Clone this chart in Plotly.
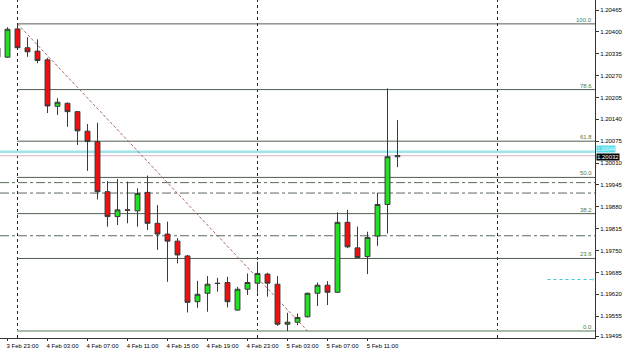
import plotly.graph_objects as go

# ---- data (EURUSD H1 style chart) ----
candle_idx = list(range(-1, 40))
opens = [1.20352, 1.20325, 1.20409, 1.20353, 1.20343, 1.20317, 1.20179, 1.20188, 1.20163, 1.20105,
         1.20074, 1.19925, 1.19851, 1.19871, 1.19868, 1.19923, 1.19831, 1.19799, 1.19778, 1.19734,
         1.19598, 1.19623, 1.19653, 1.19655, 1.19573, 1.19635, 1.19653, 1.19680, 1.19650, 1.19531,
         1.19537, 1.19553, 1.19623, 1.19647, 1.19626, 1.19834, 1.19758, 1.19732, 1.19793, 1.19887,
         1.20029]
highs = [1.20361, 1.20414, 1.20424, 1.20384, 1.20378, 1.20323, 1.20203, 1.20190, 1.20165, 1.20126,
         1.20130, 1.19957, 1.19963, 1.19955, 1.19935, 1.19973, 1.19885, 1.19836, 1.19787, 1.19737,
         1.19660, 1.19674, 1.19669, 1.19672, 1.19642, 1.19682, 1.19717, 1.19684, 1.19674, 1.19565,
         1.19563, 1.19625, 1.19655, 1.19659, 1.19864, 1.19871, 1.19821, 1.19806, 1.19922, 1.20232,
         1.20138]
lows = [1.20322, 1.20323, 1.20350, 1.20326, 1.20307, 1.20159, 1.20153, 1.20118, 1.20064, 1.19987,
        1.19902, 1.19821, 1.19826, 1.19831, 1.19821, 1.19811, 1.19752, 1.19657, 1.19712, 1.19566,
        1.19580, 1.19568, 1.19628, 1.19581, 1.19572, 1.19618, 1.19625, 1.19613, 1.19526, 1.19511,
        1.19528, 1.19551, 1.19585, 1.19588, 1.19624, 1.19757, 1.19727, 1.19680, 1.19764, 1.19801,
        1.19998]
closes = [1.20325, 1.20408, 1.20353, 1.20341, 1.20315, 1.20180, 1.20191, 1.20163, 1.20106, 1.20074,
          1.19925, 1.19851, 1.19871, 1.19870, 1.19920, 1.19831, 1.19799, 1.19778, 1.19737, 1.19596,
          1.19620, 1.19650, 1.19652, 1.19598, 1.19635, 1.19655, 1.19682, 1.19653, 1.19531, 1.19537,
          1.19551, 1.19623, 1.19647, 1.19626, 1.19834, 1.19761, 1.19729, 1.19789, 1.19887, 1.20029,
          1.20032]

x_tick_idx = [0, 4, 8, 12, 16, 20, 24, 28, 32, 36]
x_tick_labels = ["3 Feb 23:00", "4 Feb 03:00", "4 Feb 07:00", "4 Feb 11:00", "4 Feb 15:00",
                 "4 Feb 19:00", "4 Feb 23:00", "5 Feb 03:00", "5 Feb 07:00", "5 Feb 11:00"]

y_tick_vals = [1.20465, 1.20400, 1.20335, 1.20270, 1.20205, 1.20140, 1.20075, 1.20010,
               1.19945, 1.19880, 1.19815, 1.19750, 1.19685, 1.19620, 1.19555, 1.19495]

# Fibonacci retracement anchors
fib_high_idx, fib_high = 1, 1.20424
fib_low_idx, fib_low = 30, 1.19511
fib_ratios = [1.0, 0.786, 0.618, 0.5, 0.382, 0.236, 0.0]
fib_labels = ["100.0", "78.6", "61.8", "50.0", "38.2", "23.6", "0.0"]

dashdot_levels = [1.19952, 1.19921, 1.19794]
cyan_level = 1.20044
bid_price = closes[-1]
arrow_level = 1.19664
arrow_idx = [54, 58.55]
separator_idx = [1, 25, 49]

x_range = [-0.75, 58.75]
y_range = [1.19490, 1.20495]

FONT = "Liberation Sans"

fig = go.Figure()

# horizontal full-width levels
for lv in dashdot_levels:
    fig.add_shape(type="line", xref="x", yref="y", x0=x_range[0], x1=x_range[1], y0=lv, y1=lv,
                  line=dict(color="#5c6b5c", width=1, dash="dashdot"), layer="below")
fig.add_shape(type="line", xref="x", yref="y", x0=x_range[0], x1=x_range[1], y0=cyan_level, y1=cyan_level,
              line=dict(color="#9fe4ea", width=2.5), layer="below")
fig.add_shape(type="line", xref="x", yref="y", x0=x_range[0], x1=x_range[1], y0=bid_price, y1=bid_price,
              line=dict(color="#cbb6cb", width=1), layer="below")

# fib levels
for r, lab in zip(fib_ratios, fib_labels):
    lv = fib_low + r * (fib_high - fib_low)
    if r == 0.0:
        ln = dict(color="#a9bba9", width=2)
    else:
        ln = dict(color="#4f5f4f", width=1)
    fig.add_shape(type="line", xref="x", yref="y", x0=fib_high_idx - 0.05, x1=x_range[1], y0=lv, y1=lv,
                  line=ln, layer="below")
    fig.add_annotation(xref="paper", yref="y", x=0.999, y=lv, text=lab, showarrow=False,
                       xanchor="right", yanchor="bottom", yshift=-1,
                       font=dict(family=FONT, size=6, color="#4f7a4f"))

# fib trendline
fig.add_shape(type="line", xref="x", yref="y", x0=fib_high_idx, y0=fib_high, x1=fib_low_idx, y1=fib_low,
              line=dict(color="#a86868", width=1, dash="3px,2px"), layer="below")

# period separators
for s in separator_idx:
    fig.add_shape(type="line", xref="x", yref="paper", x0=s, x1=s, y0=0, y1=1,
                  line=dict(color="#222222", width=1, dash="dot"), layer="below")

fig.add_trace(go.Candlestick(
    x=candle_idx, open=opens, high=highs, low=lows, close=closes,
    increasing=dict(fillcolor="#22e022", line=dict(color="#3a3a3a", width=1)),
    decreasing=dict(fillcolor="#ee1010", line=dict(color="#3a3a3a", width=1)),
    showlegend=False, hoverinfo="skip"))

# cyan dotted arrow
fig.add_trace(go.Scatter(x=arrow_idx, y=[arrow_level, arrow_level], mode="lines+markers",
                         line=dict(color="#3cc8d2", width=1, dash="dot"),
                         marker=dict(symbol="triangle-right", size=[0, 4], color="#3cc8d2"),
                         showlegend=False, hoverinfo="skip", cliponaxis=False))

# price labels on axis
fig.add_annotation(xref="paper", yref="y", x=1.0, y=cyan_level, text="1.20044", showarrow=False,
                   xanchor="left", yanchor="bottom", xshift=1, yshift=-1, bgcolor="#55dde8", borderpad=0,
                   font=dict(family=FONT, size=5, color="#e8fbfc"))
fig.add_annotation(xref="paper", yref="y", x=1.0, y=bid_price, text="1.20032", showarrow=False,
                   xanchor="left", yanchor="top", xshift=1, yshift=3, bgcolor="#000000", borderpad=0,
                   font=dict(family=FONT, size=6, color="#ffffff"))

fig.update_layout(
    width=625, height=352,
    margin=dict(l=0, r=30, t=0, b=14),
    paper_bgcolor="white", plot_bgcolor="white",
    font=dict(family=FONT, size=6, color="black"),
    xaxis=dict(range=x_range, rangeslider=dict(visible=False), showgrid=False, zeroline=False,
               showline=True, linecolor="#333333", linewidth=1,
               tickmode="array", tickvals=x_tick_idx, ticktext=x_tick_labels,
               ticks="outside", ticklen=2, tickcolor="#333333", ticklabelshift=15,
               tickfont=dict(family=FONT, size=6, color="black")),
    yaxis=dict(range=y_range, side="right", showgrid=False, zeroline=False,
               showline=True, linecolor="#333333", linewidth=1,
               tickmode="array", tickvals=y_tick_vals, ticktext=[f"{v:.5f}" for v in y_tick_vals],
               ticks="outside", ticklen=3, tickcolor="#333333",
               tickfont=dict(family=FONT, size=6, color="black")),
)

fig.write_html("out.html")
